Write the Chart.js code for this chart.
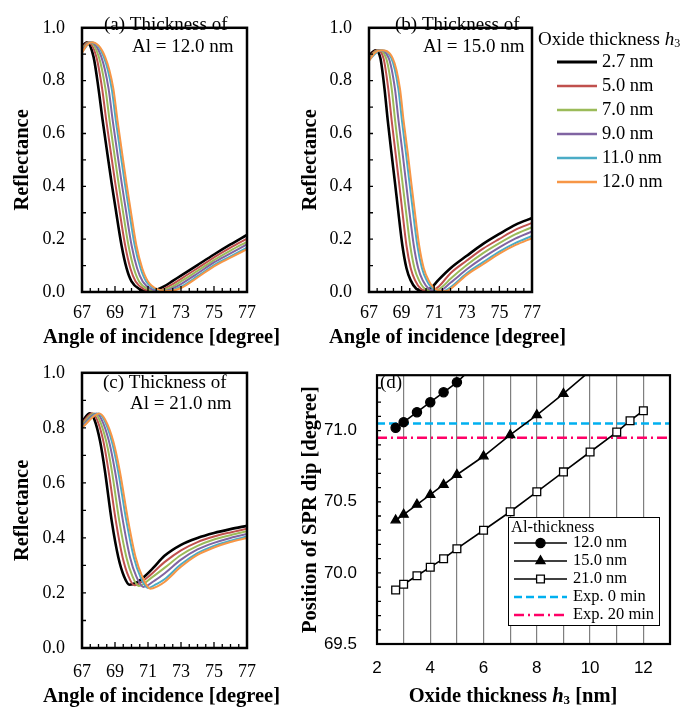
<!DOCTYPE html>
<html>
<head>
<meta charset="utf-8">
<title>SPR reflectance vs oxide thickness</title>
<script src="https://cdn.jsdelivr.net/npm/chart.js@4.4.1/dist/chart.umd.min.js"></script>
<style>
  body { margin: 0; background: #fff; }
  #wrap { position: relative; width: 693px; height: 711px; overflow: hidden; }
  #wrap canvas { position: absolute; }
</style>
</head>
<body>
<div id="wrap">
  <canvas id="chartA" width="290" height="350" style="left:0;top:0"></canvas>
  <canvas id="chartB" width="403" height="350" style="left:290px;top:0"></canvas>
  <canvas id="chartC" width="290" height="366" style="left:0;top:345px"></canvas>
  <canvas id="chartD" width="403" height="366" style="left:290px;top:345px"></canvas>
</div>
<script>
// ---- reflectance curves: [angle (deg), reflectance] ----
const thicknessLabels = ['2.7 nm', '5.0 nm', '7.0 nm', '9.0 nm', '11.0 nm', '12.0 nm'];
const lineColors = ['#000000', '#c0504d', '#9bbb59', '#8064a2', '#4bacc6', '#f79646'];
const angleTicks = [67, 69, 71, 73, 75, 77];
const reflTicks = [0, 0.2, 0.4, 0.6, 0.8, 1.0];

// Al = 12.0 nm
const a27 = [[67,.930],[67.30,.945],[67.70,.890],[68.00,.770],[68.25,.650],[68.50,.540],[68.80,.410],[69.00,.330],[69.40,.175],[69.70,.090],[70.00,.040],[70.50,.010],[71.02,.003],[71.50,.008],[72.00,.022],[72.50,.042],[73,.062],[74,.102],[75,.142],[76,.180],[77,.216]];
const a50 = [[67,.925],[67.37,.945],[67.87,.890],[68.22,.770],[68.47,.650],[68.72,.540],[69.02,.410],[69.22,.330],[69.62,.175],[69.93,.090],[70.25,.040],[70.77,.010],[71.34,.003],[72.00,.013],[72.50,.030],[73,.050],[74,.090],[75,.131],[76,.168],[77,.202]];
const a70 = [[67,.920],[67.44,.945],[68.02,.890],[68.42,.770],[68.67,.650],[68.92,.540],[69.22,.410],[69.42,.330],[69.82,.175],[70.14,.090],[70.46,.040],[71.01,.010],[71.62,.003],[72.30,.015],[73,.040],[74,.080],[75,.121],[76,.157],[77,.190]];
const a90 = [[67,.915],[67.50,.945],[68.17,.890],[68.61,.770],[68.86,.650],[69.11,.540],[69.41,.410],[69.61,.330],[70.01,.175],[70.34,.090],[70.68,.040],[71.24,.010],[71.90,.003],[72.50,.014],[73,.030],[74,.070],[75,.112],[76,.146],[77,.180]];
const a110 = [[67,.910],[67.57,.945],[68.32,.890],[68.80,.770],[69.05,.650],[69.30,.540],[69.60,.410],[69.80,.330],[70.20,.175],[70.55,.090],[70.89,.040],[71.48,.010],[72.18,.003],[73,.020],[74,.060],[75,.102],[76,.135],[77,.168]];
const a120 = [[67,.905],[67.30,.935],[67.60,.945],[68.40,.890],[68.90,.770],[69.15,.650],[69.40,.540],[69.70,.410],[69.90,.330],[70.30,.175],[70.65,.090],[71.00,.040],[71.60,.010],[72.32,.004],[73,.015],[74,.055],[75,.097],[76,.130],[77,.162]];

// Al = 15.0 nm
const b27 = [[67,.895],[67.40,.915],[67.70,.885],[67.95,.770],[68.15,.650],[68.37,.530],[68.60,.410],[68.75,.330],[69.05,.175],[69.30,.090],[69.55,.045],[69.90,.012],[70.37,.003],[70.80,.015],[71.25,.045],[72,.090],[73,.137],[74,.182],[75,.220],[76,.255],[77,.280]];
const b50 = [[67,.890],[67.49,.915],[67.89,.885],[68.18,.770],[68.39,.650],[68.62,.530],[68.85,.410],[69.00,.330],[69.30,.175],[69.56,.090],[69.82,.045],[70.18,.012],[70.69,.003],[71.30,.022],[72,.071],[73,.119],[74,.164],[75,.201],[76,.236],[77,.261]];
const b70 = [[67,.886],[67.56,.915],[68.05,.885],[68.39,.770],[68.60,.650],[68.83,.530],[69.06,.410],[69.22,.330],[69.53,.175],[69.79,.090],[70.06,.045],[70.43,.012],[70.97,.003],[71.50,.020],[72,.050],[73,.102],[74,.147],[75,.185],[76,.219],[77,.245]];
const b90 = [[67,.881],[67.64,.915],[68.21,.885],[68.59,.770],[68.81,.650],[69.05,.530],[69.28,.410],[69.43,.330],[69.75,.175],[70.02,.090],[70.29,.045],[70.68,.012],[71.26,.003],[72,.035],[73,.086],[74,.130],[75,.169],[76,.203],[77,.229]];
const b110 = [[67,.877],[67.71,.915],[68.37,.885],[68.80,.770],[69.02,.650],[69.26,.530],[69.49,.410],[69.65,.330],[69.97,.175],[70.25,.090],[70.53,.045],[70.93,.012],[71.55,.003],[72,.018],[73,.071],[74,.113],[75,.153],[76,.186],[77,.212]];
const b120 = [[67,.875],[67.35,.905],[67.75,.915],[68.45,.885],[68.90,.770],[69.12,.650],[69.37,.530],[69.60,.410],[69.76,.330],[70.08,.175],[70.36,.090],[70.65,.045],[71.05,.012],[71.70,.003],[72,.012],[73,.065],[74,.105],[75,.145],[76,.178],[77,.204]];

// Al = 21.0 nm
const c27 = [[67,.823],[67.48,.853],[67.75,.830],[68.10,.750],[68.39,.643],[68.80,.462],[69.20,.330],[69.55,.260],[69.88,.230],[70.30,.237],[70.70,.255],[71.30,.290],[72,.335],[73,.375],[74,.400],[75,.418],[76,.432],[77,.444]];
const c50 = [[67,.817],[67.62,.853],[67.91,.830],[68.30,.750],[68.61,.643],[69.05,.462],[69.46,.330],[69.82,.260],[70.17,.228],[71.00,.258],[72,.312],[73,.355],[74,.385],[75,.405],[76,.420],[77,.433]];
const c70 = [[67,.812],[67.74,.852],[68.05,.830],[68.47,.750],[68.81,.643],[69.26,.462],[69.69,.330],[70.06,.260],[70.43,.225],[71.20,.255],[72,.291],[73,.338],[74,.371],[75,.394],[76,.410],[77,.424]];
const c90 = [[67,.807],[67.87,.852],[68.19,.830],[68.64,.750],[69.00,.643],[69.48,.462],[69.91,.330],[70.29,.260],[70.71,.222],[71.40,.245],[72,.271],[73,.321],[74,.358],[75,.382],[76,.400],[77,.414]];
const c110 = [[67,.802],[67.99,.852],[68.33,.830],[68.81,.750],[69.19,.643],[69.69,.462],[70.14,.330],[70.53,.260],[70.99,.218],[71.50,.232],[72,.250],[73,.304],[74,.345],[75,.371],[76,.390],[77,.405]];
const c120 = [[67,.800],[68.05,.852],[68.40,.830],[68.90,.750],[69.29,.643],[69.80,.462],[70.25,.330],[70.65,.260],[71.14,.215],[71.60,.225],[72,.240],[73,.295],[74,.338],[75,.365],[76,.385],[77,.400]];

// ---- SPR dip position vs oxide thickness ----
const oxide12 = [2.7, 3, 3.5, 4, 4.5, 5, 6];
const dip12 = [71.02, 71.06, 71.13, 71.20, 71.27, 71.34, 71.52];
const oxide15 = [2.7, 3, 3.5, 4, 4.5, 5, 6, 7, 8, 9, 10];
const dip15 = [70.37, 70.41, 70.48, 70.55, 70.62, 70.69, 70.82, 70.97, 71.11, 71.26, 71.42];
const oxide21 = [2.7, 3, 3.5, 4, 4.5, 5, 6, 7, 8, 9, 10, 11, 11.5, 12];
const dip21 = [69.88, 69.92, 69.98, 70.04, 70.10, 70.17, 70.30, 70.43, 70.57, 70.71, 70.85, 70.99, 71.07, 71.14];
const exp0min = 71.05;
const exp20min = 70.95;
const oxideTicks = [2, 3, 4, 5, 6, 7, 8, 9, 10, 11, 12, 13];
const dipTicks = [69.5, 70.0, 70.5, 71.0];

const SERIF = '"Liberation Serif", "Times New Roman", serif';
const SANS = '"Liberation Sans", Arial, sans-serif';
Chart.defaults.color = '#000';
Chart.defaults.font.family = SERIF;

// draws a row of text pieces (used for italic h with subscript 3)
function drawRich(ctx, parts, x, y, align) {
  let total = 0;
  parts.forEach(p => { ctx.font = p.font; p.w = ctx.measureText(p.t).width; total += p.w; });
  let cx = align === 'center' ? x - total / 2 : x;
  ctx.textAlign = 'left';
  ctx.textBaseline = 'middle';
  parts.forEach(p => { ctx.font = p.font; ctx.fillText(p.t, cx, y + (p.dy || 0)); cx += p.w; });
}

// frame box, inward tick marks, panel notes and the x-axis title
const framePlugin = {
  id: 'frame',
  afterDatasetsDraw(chart, args, o) {
    const {ctx, chartArea: a, scales} = chart;
    ctx.save();
    ctx.strokeStyle = '#000';
    ctx.lineWidth = 1.3;
    ctx.beginPath();
    (o.xMarks || []).forEach(([v, len]) => {
      const px = scales.x.getPixelForValue(v);
      ctx.moveTo(px, a.bottom); ctx.lineTo(px, a.bottom - len);
    });
    (o.yMarks || []).forEach(([v, len]) => {
      const py = scales.y.getPixelForValue(v);
      ctx.moveTo(a.left, py); ctx.lineTo(a.left + len, py);
    });
    ctx.stroke();
    ctx.lineWidth = o.border || 2.5;
    ctx.strokeRect(a.left, a.top, a.right - a.left, a.bottom - a.top);
    ctx.fillStyle = '#000';
    ctx.font = '19px ' + SERIF;
    ctx.textAlign = 'left';
    ctx.textBaseline = 'middle';
    (o.notes || []).forEach(n => ctx.fillText(n.text, n.x, n.y));
    if (o.xTitle) drawRich(ctx, o.xTitle.parts, o.xTitle.x, o.xTitle.y, 'center');
    ctx.restore();
  }
};

// legend drawn from the chart's own datasets
const keyPlugin = {
  id: 'key',
  afterDraw(chart, args, o) {
    if (!o.rows) return;
    const ctx = chart.ctx;
    ctx.save();
    if (o.box) {
      ctx.fillStyle = '#fff';
      ctx.fillRect(o.box[0], o.box[1], o.box[2], o.box[3]);
      ctx.strokeStyle = '#000';
      ctx.lineWidth = 1;
      ctx.strokeRect(o.box[0] + 0.5, o.box[1] + 0.5, o.box[2], o.box[3]);
    }
    ctx.fillStyle = '#000';
    drawRich(ctx, o.title, o.titleX, o.titleY, 'left');
    o.rows.forEach((idx, k) => {
      const ds = chart.data.datasets[idx];
      const y = o.y0 + k * o.dy;
      ctx.strokeStyle = ds.borderColor;
      ctx.lineWidth = o.lineWidth ? o.lineWidth[k] : ds.borderWidth;
      ctx.setLineDash(ds.borderDash || []);
      ctx.beginPath();
      ctx.moveTo(o.x0, y); ctx.lineTo(o.x1, y);
      ctx.stroke();
      ctx.setLineDash([]);
      if (ds.pointRadius > 0 && Chart.helpers && Chart.helpers.drawPoint) {
        ctx.fillStyle = ds.pointBackgroundColor;
        ctx.strokeStyle = ds.pointBorderColor;
        ctx.lineWidth = ds.pointBorderWidth;
        Chart.helpers.drawPoint(ctx, {pointStyle: ds.pointStyle, radius: ds.pointRadius, rotation: 0, borderWidth: ds.pointBorderWidth}, (o.x0 + o.x1) / 2, y);
      }
      ctx.fillStyle = '#000';
      ctx.font = o.font;
      ctx.textAlign = 'left';
      ctx.textBaseline = 'middle';
      ctx.fillText(ds.label, o.textX, y);
    });
    ctx.restore();
  }
};

const angleTitle = [{t: 'Angle of incidence [degree]', font: `bold 20.5px ${SERIF}`}];

function reflectanceChart(id, curves, box, notes, key) {
  const canvas = document.getElementById(id);
  const W = canvas.width, H = canvas.height;
  const xMarks = [], yMarks = [];
  for (let v = 67; v <= 77.001; v += 0.5) xMarks.push([v, angleTicks.includes(v) ? 6 : 4]);
  for (let v = 0.1; v < 1; v += 0.1) yMarks.push([v, 4]);
  return new Chart(canvas, {
    type: 'line',
    data: {
      datasets: curves.map((pts, i) => ({
        label: thicknessLabels[i],
        data: pts.map(([x, y]) => ({x, y})),
        borderColor: lineColors[i],
        borderWidth: i === 0 ? 2.6 : 2,
        pointRadius: 0,
        cubicInterpolationMode: 'monotone',
        order: curves.length - i
      }))
    },
    options: {
      responsive: false,
      animation: false,
      events: [],
      layout: {padding: {left: 0, top: box.top, right: W - box.right, bottom: 0}},
      scales: {
        x: {
          type: 'linear', min: 67, max: 77,
          afterBuildTicks: s => { s.ticks = angleTicks.map(v => ({value: v})); },
          afterFit: s => { s.height = H - box.bottom; },
          grid: {display: false, drawTicks: false},
          border: {display: false},
          ticks: {font: {size: 18}, padding: box.xPad, maxRotation: 0}
        },
        y: {
          min: 0, max: 1,
          afterBuildTicks: s => { s.ticks = reflTicks.map(v => ({value: v})); },
          afterFit: s => { s.width = box.left; },
          grid: {display: false, drawTicks: false},
          border: {display: false},
          ticks: {font: {size: 18}, padding: 17, callback: v => v.toFixed(1)},
          title: {display: true, text: 'Reflectance', font: {size: 20.5, weight: 'bold', lineHeight: 1.2}, padding: {top: box.yTitlePad, bottom: 0}}
        }
      },
      plugins: {
        legend: {display: false},
        tooltip: {enabled: false},
        frame: {xMarks, yMarks, border: 2.5, notes,
                xTitle: {parts: angleTitle, x: (box.left + box.right) / 2 - 3, y: box.titleY}},
        key: key || {}
      }
    },
    plugins: [framePlugin, keyPlugin]
  });
}

const hTitle = (size, weight) => [
  {t: 'Oxide thickness ', font: `${weight} ${size}px ${SERIF}`},
  {t: 'h', font: `italic ${weight} ${size}px ${SERIF}`},
  {t: '3', font: `${weight} ${Math.round(size * 0.65)}px ${SERIF}`, dy: 4}
];

reflectanceChart('chartA', [a27, a50, a70, a90, a110, a120],
  {left: 82, right: 247, top: 13, bottom: 292, xPad: 10, titleY: 338, yTitlePad: 10},
  [{text: '(a) Thickness of', x: 104, y: 25}, {text: 'Al = 12.0 nm', x: 132, y: 47}]);

reflectanceChart('chartB', [b27, b50, b70, b90, b110, b120],
  {left: 79, right: 242, top: 13, bottom: 292, xPad: 10, titleY: 338, yTitlePad: 8},
  [{text: '(b) Thickness of', x: 105, y: 25}, {text: 'Al = 15.0 nm', x: 133, y: 47}],
  {rows: [0, 1, 2, 3, 4, 5], title: hTitle(19, 'normal'), titleX: 248, titleY: 40,
   x0: 267, x1: 307, textX: 312, y0: 62, dy: 24, font: '18.5px ' + SERIF,
   lineWidth: [3, 2.5, 2.5, 2.5, 2.5, 2.5]});

reflectanceChart('chartC', [c27, c50, c70, c90, c110, c120],
  {left: 82, right: 247, top: 26, bottom: 303, xPad: 13, titleY: 352, yTitlePad: 10},
  [{text: '(c) Thickness of', x: 103, y: 38}, {text: 'Al = 21.0 nm', x: 130, y: 59}]);

// ---- panel (d) ----
(function () {
  const canvas = document.getElementById('chartD');
  const W = canvas.width, H = canvas.height;
  const box = {left: 87, right: 380, top: 26, bottom: 299};
  const zip = (xs, ys) => xs.map((x, i) => ({x, y: ys[i]}));
  const yMarks = [];
  for (let v = 69.6; v < 71.39; v += 0.1) yMarks.push([v, 4]);
  const series = (label, xs, ys, style, radius, fill) => ({
    label, data: zip(xs, ys), borderColor: '#000', borderWidth: 1.6,
    pointStyle: style, pointRadius: radius, pointBackgroundColor: fill,
    pointBorderColor: '#000', pointBorderWidth: 1.3, tension: 0
  });
  new Chart(canvas, {
    type: 'line',
    data: {
      datasets: [
        series('12.0 nm', oxide12, dip12, 'circle', 4.6, '#000'),
        series('15.0 nm', oxide15, dip15, 'triangle', 5.2, '#000'),
        series('21.0 nm', oxide21, dip21, 'rect', 5.5, '#fff'),
        {label: 'Exp. 0 min', data: [{x: 2, y: exp0min}, {x: 13, y: exp0min}], borderColor: '#00b0f0',
         borderWidth: 2.5, borderDash: [8, 4], pointRadius: 0},
        {label: 'Exp. 20 min', data: [{x: 2, y: exp20min}, {x: 13, y: exp20min}], borderColor: '#ff0066',
         borderWidth: 2.5, borderDash: [10, 4, 2, 4], pointRadius: 0}
      ]
    },
    options: {
      responsive: false,
      animation: false,
      events: [],
      layout: {padding: {left: 0, top: box.top, right: W - box.right, bottom: 0}},
      scales: {
        x: {
          type: 'linear', min: 2, max: 13,
          afterBuildTicks: s => { s.ticks = oxideTicks.map(v => ({value: v})); },
          afterFit: s => { s.height = H - box.bottom; },
          grid: {color: '#7f7f7f', lineWidth: 1.2, drawTicks: false},
          border: {display: false},
          ticks: {font: {size: 17, family: SANS}, padding: 14, maxRotation: 0,
                  callback: v => (v % 2 === 0 && v <= 12) ? String(v) : ''}
        },
        y: {
          min: 69.5, max: 71.39,
          afterBuildTicks: s => { s.ticks = dipTicks.map(v => ({value: v})); },
          afterFit: s => { s.width = box.left; },
          grid: {display: false, drawTicks: false},
          border: {display: false},
          ticks: {font: {size: 17, family: SANS}, padding: 20, callback: v => v.toFixed(1)},
          title: {display: true, text: 'Position of SPR dip [degree]', font: {size: 20.5, weight: 'bold', lineHeight: 1.2}, padding: {top: 8, bottom: 0}}
        }
      },
      plugins: {
        legend: {display: false},
        tooltip: {enabled: false},
        frame: {yMarks, border: 2.2, notes: [{text: '(d)', x: 90, y: 38}],
                xTitle: {parts: hTitle(20.5, 'bold').concat([{t: ' [nm]', font: `bold 20.5px ${SERIF}`}]), x: 223, y: 352}},
        key: {rows: [0, 1, 2, 3, 4], box: [218, 172, 151, 108],
              title: [{t: 'Al-thickness', font: '16.5px ' + SERIF}], titleX: 221, titleY: 183,
              x0: 224, x1: 277, textX: 283, y0: 198, dy: 18, font: '16.5px ' + SERIF}
      }
    },
    plugins: [framePlugin, keyPlugin]
  });
})();
</script>
</body>
</html>
